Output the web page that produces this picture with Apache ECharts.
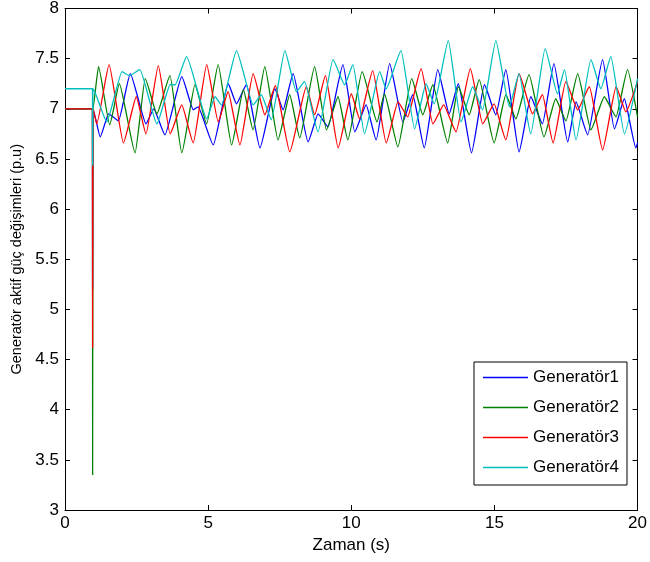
<!DOCTYPE html>
<html>
<head>
<meta charset="utf-8">
<script src="https://cdn.jsdelivr.net/npm/echarts@6/dist/echarts.min.js"></script>
<style>
html,body{margin:0;padding:0;background:#fff;}
#chart{width:650px;height:562px;}
</style>
</head>
<body>
<div id="chart"></div>
<script>
var seriesNames = ['Generatör1', 'Generatör2', 'Generatör3', 'Generatör4'];
var xTicks = [0, 5, 10, 15, 20];
var yTicks = [3, 3.5, 4, 4.5, 5, 5.5, 6, 6.5, 7, 7.5, 8];

var gen1 = [[0,7.0],[0.96,7.0],[0.965,5.2],[0.975,7.0],[1.23,6.72],[1.52,6.95],[1.87,6.88],[2.28,7.35],[2.83,6.85],[3.1,7.0],[3.49,6.74],[4.08,7.32],[4.48,6.99],[4.65,7.02],[5.18,6.64],[5.70,7.25],[5.99,7.05],[6.34,7.24],[6.81,6.61],[7.33,7.20],[7.62,6.99],[7.97,7.35],[8.49,6.67],[8.84,6.95],[9.19,6.82],[9.71,7.44],[10.12,6.77],[10.52,7.04],[10.87,6.69],[11.34,7.45],[11.80,6.87],[12.15,7.14],[12.55,6.61],[13.02,7.39],[13.42,6.95],[13.74,7.25],[14.2,6.56],[14.65,7.24],[15.05,6.94],[15.40,7.39],[15.86,6.57],[16.27,7.12],[16.68,6.85],[17.08,7.45],[17.56,6.67],[17.85,7.07],[18.26,6.74],[18.78,7.49],[19.19,6.80],[19.54,7.10],[19.94,6.61],[20,6.66]];
var gen2 = [[0,7.0],[0.96,7.0],[0.965,3.35],[0.975,7.0],[1.17,7.42],[1.56,6.84],[1.90,7.25],[2.45,6.56],[2.80,7.30],[3.21,6.95],[3.67,7.33],[4.08,6.56],[4.54,7.24],[4.95,6.85],[5.35,7.44],[5.82,6.64],[6.23,7.19],[6.57,6.79],[6.98,7.42],[7.44,6.69],[7.85,7.14],[8.20,6.71],[8.72,7.42],[9.13,6.79],[9.54,7.12],[9.88,6.69],[10.38,7.37],[10.90,6.87],[11.16,7.15],[11.63,6.62],[12.11,7.30],[12.50,6.94],[12.85,7.24],[13.37,6.66],[13.74,7.22],[14.12,6.94],[14.47,7.29],[14.99,6.66],[15.40,7.14],[15.75,6.90],[16.21,7.34],[16.73,6.72],[17.14,7.10],[17.5,6.88],[17.91,7.35],[18.37,6.79],[18.84,7.12],[19.25,6.92],[19.65,7.39],[20,6.92]];
var gen3 = [[0,7.0],[0.96,7.0],[0.965,4.62],[0.975,7.0],[1.11,6.85],[1.54,7.44],[2.04,6.66],[2.49,7.12],[2.83,6.75],[3.26,7.43],[3.67,6.75],[4.08,7.04],[4.48,6.66],[4.95,7.44],[5.35,6.87],[5.70,7.17],[6.11,6.64],[6.57,7.35],[6.98,6.94],[7.35,7.23],[7.85,6.57],[8.43,7.22],[8.72,6.94],[9.10,7.33],[9.54,6.61],[10.0,7.15],[10.29,6.90],[10.75,7.38],[11.22,6.66],[11.63,7.07],[11.97,6.92],[12.44,7.40],[12.85,6.85],[13.23,7.04],[13.66,6.77],[14.16,7.40],[14.59,6.85],[14.99,7.05],[15.40,6.69],[15.86,7.35],[16.33,6.95],[16.68,7.14],[17.05,6.66],[17.49,7.27],[17.91,6.99],[18.32,7.22],[18.78,6.59],[19.25,7.22],[19.59,6.97],[20,7.27]];
var gen4 = [[0,7.2],[0.96,7.2],[0.965,6.43],[0.975,7.2],[1.46,6.87],[1.99,7.37],[2.25,7.33],[2.62,7.39],[3.21,6.85],[3.67,7.24],[3.85,7.24],[4.25,7.52],[4.95,6.90],[5.24,7.12],[5.47,7.04],[5.99,7.58],[6.57,7.04],[6.86,7.14],[7.21,6.89],[7.68,7.58],[8.08,7.17],[8.37,7.27],[8.84,6.77],[9.36,7.49],[9.77,7.24],[10.06,7.44],[10.46,6.75],[10.99,7.37],[11.22,7.20],[11.74,7.58],[12.21,6.80],[12.61,7.25],[12.90,7.05],[13.39,7.68],[13.83,6.87],[14.24,7.22],[14.59,6.99],[15.05,7.68],[15.52,7.02],[15.86,7.35],[16.27,6.75],[16.77,7.60],[17.20,7.15],[17.45,7.39],[17.85,6.69],[18.37,7.49],[18.72,7.20],[19.07,7.52],[19.54,6.75],[20,7.30]];

var seriesData = [gen1, gen2, gen3, gen4];
var colors = ['#0000ff', '#008000', '#ff0000', '#00bfbf'];
var FONT = 'Liberation Sans, Arial, Helvetica, sans-serif';

var chart = echarts.init(document.getElementById('chart'), null, {renderer: 'canvas'});

function axisBase(show) {
  return {
    axisLine: {show: true, onZero: false, lineStyle: {color: '#000', width: 1}},
    axisTick: {show: true, inside: true, length: 5, lineStyle: {color: '#000'}},
    splitLine: {show: false},
    axisLabel: {show: show, color: '#000', fontSize: 17, fontFamily: FONT}
  };
}

var xBottom = Object.assign(axisBase(true), {
  type: 'value', min: xTicks[0], max: xTicks[xTicks.length - 1], interval: 5, position: 'bottom',
  name: 'Zaman (s)', nameLocation: 'middle', nameGap: 25,
  nameTextStyle: {color: '#000', fontSize: 17, fontFamily: FONT}
});
xBottom.axisLabel.margin = 5;
var xTop = Object.assign(axisBase(false), {
  type: 'value', min: xTicks[0], max: xTicks[xTicks.length - 1], interval: 5, position: 'top'
});
var yLeft = Object.assign(axisBase(true), {
  type: 'value', min: yTicks[0], max: yTicks[yTicks.length - 1], interval: 0.5, position: 'left',
  name: 'Generatör aktif güç değişimleri (p.u)', nameLocation: 'middle', nameGap: 38,
  nameTextStyle: {color: '#000', fontSize: 14.5, fontFamily: FONT}
});
yLeft.axisLabel.margin = 6;
var yRight = Object.assign(axisBase(false), {
  type: 'value', min: yTicks[0], max: yTicks[yTicks.length - 1], interval: 0.5, position: 'right'
});

chart.setOption({
  animation: false,
  backgroundColor: '#fff',
  grid: {left: 65, right: 9, top: 8, bottom: 52, containLabel: false},
  xAxis: [xBottom, xTop],
  yAxis: [yLeft, yRight],
  legend: {
    orient: 'vertical',
    left: 474, top: 362,
    padding: [7, 8, 9, 9],
    itemGap: 13,
    itemWidth: 45, itemHeight: 1.5,
    icon: 'rect',
    borderColor: '#000', borderWidth: 1,
    backgroundColor: '#fff',
    textStyle: {color: '#000', fontSize: 17, fontFamily: FONT},
    data: seriesNames
  },
  series: seriesData.map(function (d, i) {
    return {
      name: seriesNames[i], type: 'line', data: d, xAxisIndex: 0, yAxisIndex: 0,
      symbol: 'none', showSymbol: false,
      smooth: 0.15, smoothMonotone: 'x',
      lineStyle: {color: colors[i], width: 1.3},
      itemStyle: {color: colors[i]},
      z: 2 + i
    };
  })
});
</script>
</body>
</html>
